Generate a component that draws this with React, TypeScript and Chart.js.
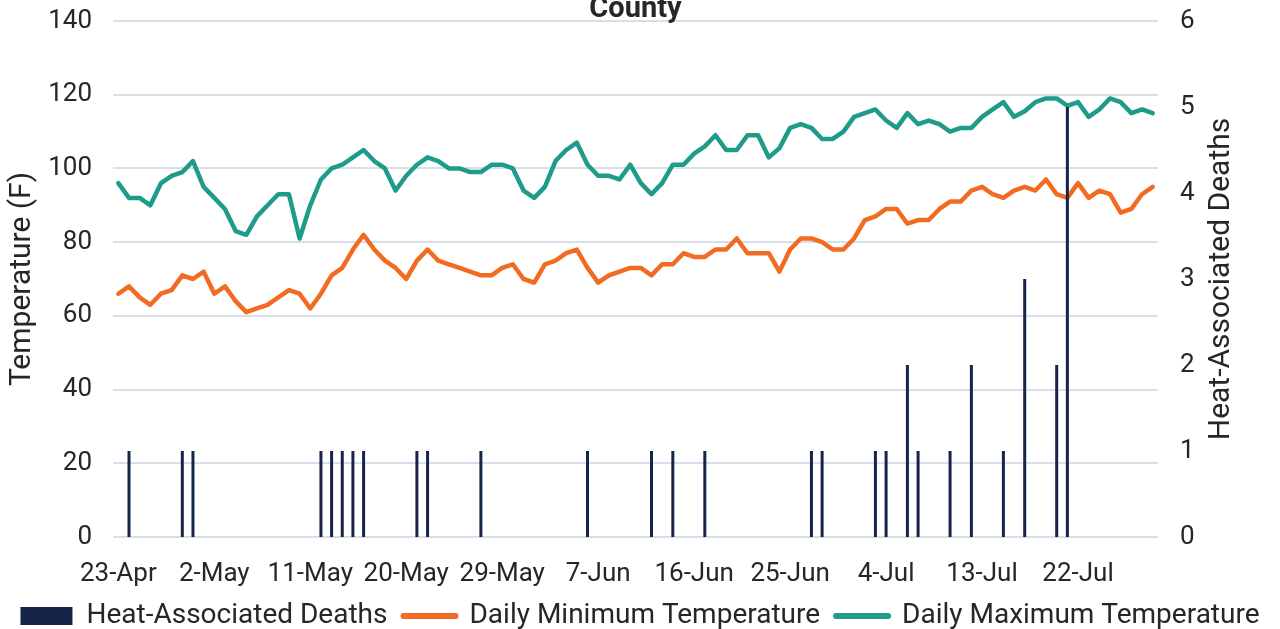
import React, { useEffect, useRef } from "react";
import { Chart, registerables } from "chart.js";

Chart.register(...registerables);

const categories = [
  "23-Apr", "24-Apr", "25-Apr", "26-Apr", "27-Apr", "28-Apr", "29-Apr", "30-Apr",
  "1-May", "2-May", "3-May", "4-May", "5-May", "6-May", "7-May", "8-May", "9-May", "10-May",
  "11-May", "12-May", "13-May", "14-May", "15-May", "16-May", "17-May", "18-May", "19-May", "20-May",
  "21-May", "22-May", "23-May", "24-May", "25-May", "26-May", "27-May", "28-May", "29-May", "30-May", "31-May",
  "1-Jun", "2-Jun", "3-Jun", "4-Jun", "5-Jun", "6-Jun", "7-Jun", "8-Jun", "9-Jun", "10-Jun",
  "11-Jun", "12-Jun", "13-Jun", "14-Jun", "15-Jun", "16-Jun", "17-Jun", "18-Jun", "19-Jun", "20-Jun",
  "21-Jun", "22-Jun", "23-Jun", "24-Jun", "25-Jun", "26-Jun", "27-Jun", "28-Jun", "29-Jun", "30-Jun",
  "1-Jul", "2-Jul", "3-Jul", "4-Jul", "5-Jul", "6-Jul", "7-Jul", "8-Jul", "9-Jul", "10-Jul",
  "11-Jul", "12-Jul", "13-Jul", "14-Jul", "15-Jul", "16-Jul", "17-Jul", "18-Jul", "19-Jul", "20-Jul",
  "21-Jul", "22-Jul", "23-Jul", "24-Jul", "25-Jul", "26-Jul", "27-Jul", "28-Jul", "29-Jul",
];

const tickLabels = [
  "23-Apr", "2-May", "11-May", "20-May", "29-May", "7-Jun",
  "16-Jun", "25-Jun", "4-Jul", "13-Jul", "22-Jul",
];

const deaths = [
  0, 1, 0, 0, 0, 0, 1, 1, 0, 0,
  0, 0, 0, 0, 0, 0, 0, 0, 0, 1,
  1, 1, 1, 1, 0, 0, 0, 0, 1, 1,
  0, 0, 0, 0, 1, 0, 0, 0, 0, 0,
  0, 0, 0, 0, 1, 0, 0, 0, 0, 0,
  1, 0, 1, 0, 0, 1, 0, 0, 0, 0,
  0, 0, 0, 0, 0, 1, 1, 0, 0, 0,
  0, 1, 1, 0, 2, 1, 0, 0, 1, 0,
  2, 0, 0, 1, 0, 3, 0, 0, 2, 5,
  0, 0, 0, 0, 0, 0, 0, 0,
];

const minTemp = [
  66, 68, 65, 63, 66, 67, 71, 70, 72, 66,
  68, 64, 61, 62, 63, 65, 67, 66, 62, 66,
  71, 73, 78, 82, 78, 75, 73, 70, 75, 78,
  75, 74, 73, 72, 71, 71, 73, 74, 70, 69,
  74, 75, 77, 78, 73, 69, 71, 72, 73, 73,
  71, 74, 74, 77, 76, 76, 78, 78, 81, 77,
  77, 77, 72, 78, 81, 81, 80, 78, 78, 81,
  86, 87, 89, 89, 85, 86, 86, 89, 91, 91,
  94, 95, 93, 92, 94, 95, 94, 97, 93, 92,
  96, 92, 94, 93, 88, 89, 93, 95,
];

const maxTemp = [
  96, 92, 92, 90, 96, 98, 99, 102, 95, 92,
  89, 83, 82, 87, 90, 93, 93, 81, 90, 97,
  100, 101, 103, 105, 102, 100, 94, 98, 101, 103,
  102, 100, 100, 99, 99, 101, 101, 100, 94, 92,
  95, 102, 105, 107, 101, 98, 98, 97, 101, 96,
  93, 96, 101, 101, 104, 106, 109, 105, 105, 109,
  109, 103, 105.5, 111, 112, 111, 108, 108, 110, 114,
  115, 116, 113, 111, 115, 112, 113, 112, 110, 111,
  111, 114, 116, 118, 114, 115.5, 118, 119, 119, 117,
  118, 114, 116, 119, 118, 115, 116, 115,
];

const NAVY = "#172449";
const ORANGE = "#f26b22";
const TEAL = "#1f9b8a";
const GRID = "#d6dfea";
const TEXT = "#262626";
const FONT = "Roboto";

const rightTitlePlugin = {
  id: "rightTitle",
  afterLayout(chart: any) {
    // let the date labels' descenders show below the x scale box
    const x = chart.scales.x;
    if (x) x.bottom = x.top + 70;
  },
  afterDraw(chart: any) {
    const s = chart.scales.y1;
    const area = chart.chartArea;
    const ctx = chart.ctx;
    ctx.save();
    ctx.translate(s.right - 59, (area.top + area.bottom) / 2);
    ctx.rotate(-Math.PI / 2);
    ctx.font = `30px ${FONT}`;
    ctx.fillStyle = TEXT;
    ctx.textAlign = "center";
    ctx.textBaseline = "middle";
    ctx.fillText("Heat-Associated Deaths", 0, 0);
    ctx.restore();
  },
};

export default function App() {
  const ref = useRef<HTMLCanvasElement | null>(null);

  useEffect(() => {
    if (!ref.current) return;
    const chart = new Chart(ref.current, {
      type: "bar",
      data: {
        labels: categories,
        datasets: [
          {
            type: "bar",
            label: "Heat-Associated Deaths",
            data: deaths,
            yAxisID: "y1",
            backgroundColor: NAVY,
            borderWidth: 0,
            inflateAmount: 0,
            barThickness: 3,
          } as any,
          {
            type: "line",
            label: "Daily Minimum Temperature",
            data: minTemp,
            yAxisID: "y",
            borderColor: ORANGE,
            backgroundColor: ORANGE,
            borderWidth: 4.5,
            pointRadius: 0,
            tension: 0,
            borderJoinStyle: "round",
            borderCapStyle: "round",
          } as any,
          {
            type: "line",
            label: "Daily Maximum Temperature",
            data: maxTemp,
            yAxisID: "y",
            borderColor: TEAL,
            backgroundColor: TEAL,
            borderWidth: 4.5,
            pointRadius: 0,
            tension: 0,
            borderJoinStyle: "round",
            borderCapStyle: "round",
          } as any,
        ],
      },
      options: {
        responsive: false,
        animation: false,
        events: [],
        layout: { padding: 0 },
        plugins: {
          tooltip: { enabled: false },
          title: {
            display: true,
            fullSize: false,
            text: "County",
            color: TEXT,
            font: { family: FONT, size: 29, weight: "bold", lineHeight: 0.6 },
            padding: { top: 0.8, bottom: 2.8 },
          },
          legend: {
            position: "bottom",
            labels: {
              usePointStyle: true,
              pointStyleWidth: 52,
              boxHeight: 18,
              padding: 16,
              color: TEXT,
              font: { family: FONT, size: 28 },
              generateLabels: (c: any) =>
                c.data.datasets.map((ds: any, i: number) => ({
                  text: ds.label,
                  datasetIndex: i,
                  pointStyle: ds.type === "bar" ? "rect" : "line",
                  fillStyle: ds.type === "bar" ? NAVY : ds.borderColor,
                  strokeStyle: ds.type === "bar" ? NAVY : ds.borderColor,
                  lineWidth: ds.type === "bar" ? 0 : 6,
                  lineCap: "round",
                  hidden: false,
                  fontColor: TEXT,
                })),
            },
          },
        },
        scales: {
          x: {
            offset: true,
            grid: { display: false, drawTicks: false },
            border: { display: false },
            ticks: {
              autoSkip: false,
              maxRotation: 0,
              minRotation: 0,
              padding: 22,
              color: TEXT,
              font: { family: FONT, size: 26 },
              callback: (_v: any, i: number) =>
                tickLabels.includes(categories[i]) ? categories[i] : "",
            },
            afterFit: (s: any) => {
              s.height = 49;
            },
          },
          y: {
            position: "left",
            min: 0,
            max: 140,
            grid: { color: GRID, lineWidth: 2, drawTicks: false },
            border: { display: false },
            ticks: {
              stepSize: 20,
              padding: 21,
              color: TEXT,
              font: { family: FONT, size: 26 },
            },
            title: {
              display: true,
              text: "Temperature (F)",
              color: TEXT,
              font: { family: FONT, size: 30 },
              padding: { top: 4, bottom: 0 },
            },
            afterFit: (s: any) => {
              s.width = 113;
              s.paddingTop = 0;
              s.paddingBottom = 0;
            },
          },
          y1: {
            position: "right",
            min: 0,
            max: 6,
            grid: { display: false, drawTicks: false },
            border: { display: false },
            ticks: {
              stepSize: 1,
              padding: 22,
              color: TEXT,
              font: { family: FONT, size: 26 },
            },
            afterFit: (s: any) => {
              s.width = 122;
              s.paddingTop = 0;
              s.paddingBottom = 0;
            },
          },
        },
      },
      plugins: [rightTitlePlugin],
    } as any);
    return () => chart.destroy();
  }, []);

  return (
    <div
      style={{
        position: "fixed",
        left: 0,
        top: 0,
        width: 1280,
        height: 629,
        overflow: "hidden",
        background: "#ffffff",
      }}
    >
      <canvas ref={ref} width={1280} height={640} style={{ display: "block" }} />
    </div>
  );
}
